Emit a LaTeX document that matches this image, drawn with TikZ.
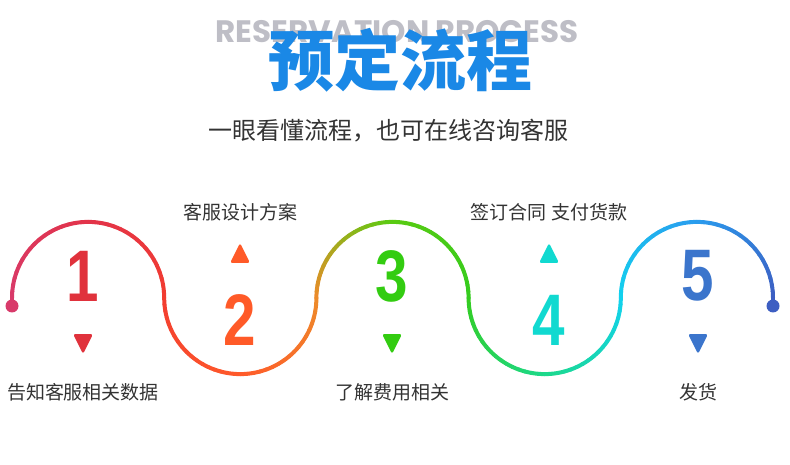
\documentclass[tikz,border=0pt]{standalone}
\usepackage{fontspec}
\newfontfamily\cjk{Noto Sans CJK SC}
\newfontfamily\latn{Poppins}
\newfontfamily\digs{Liberation Sans}
\definecolor{s0}{HTML}{D83A6A}
\definecolor{m1}{HTML}{E2334A}
\definecolor{s1}{HTML}{F23C30}
\definecolor{m2}{HTML}{FF5A2A}
\definecolor{s2}{HTML}{EE8A2A}
\definecolor{m3}{HTML}{5ACB12}
\definecolor{s3}{HTML}{34CC1E}
\definecolor{m4}{HTML}{1CD98A}
\definecolor{s4}{HTML}{12D2EE}
\definecolor{m5}{HTML}{2A9CEE}
\definecolor{s5}{HTML}{3D5EC2}
\definecolor{c1}{HTML}{E0323C}
\definecolor{c2}{HTML}{FF5A28}
\definecolor{c3}{HTML}{33CC11}
\definecolor{c4}{HTML}{11D9D0}
\definecolor{c5}{HTML}{3B75CC}
\definecolor{txt}{HTML}{333333}
\tikzset{
    stepnum/.style={inner sep=0pt, xscale=0.8, font=\digs\bfseries\fontsize{73}{73}\selectfont},
    steplabel/.style={inner sep=0pt, text=txt, font=\cjk\fontsize{19}{19}\selectfont},
    wave/.style={line width=4pt, line cap=round}
}
\begin{document}
\begin{tikzpicture}[x=1pt, y=1pt]
    \useasboundingbox (0,0) rectangle (790,464);

    \node[text={rgb,255:red,190;green,190;blue,198}, font=\latn\bfseries\fontsize{31}{31}\selectfont] (sub) at (397,432) {RESERVATION PROCESS};
    \node[text={rgb,255:red,26;green,136;blue,230}, font=\cjk\bfseries\fontsize{66}{66}\selectfont] (title) at (400,404) {预定流程};
    \node[text=txt, font=\cjk\fontsize{24}{24}\selectfont] (intro) at (388,333) {一眼看懂流程，也可在线咨询客服};

    % wave, drawn in small pieces for the colour run
    \foreach \k in {1,...,5}{
        \pgfmathsetmacro{\cx}{88.1+152.2*(\k-1)}
        \pgfmathtruncatemacro{\km}{\k-1}
        \pgfmathtruncatemacro{\sg}{mod(\k,2)==1 ? -1 : 1}
        \foreach \j in {0,...,35}{
            \pgfmathsetmacro{\aa}{180+\sg*5*\j}
            \pgfmathsetmacro{\ab}{180+\sg*5*(\j+1)}
            \ifnum\j<18
                \pgfmathtruncatemacro{\p}{(\j+0.5)/18*100}
                \colorlet{seg}{m\k!\p!s\km}
            \else
                \pgfmathtruncatemacro{\p}{(\j-17.5)/18*100}
                \colorlet{seg}{s\k!\p!m\k}
            \fi
            \draw[wave, seg] ({\cx+76.1*cos(\aa)},{166+76.1*sin(\aa)}) arc[start angle=\aa, end angle=\ab, radius=76.1];
        }
    }
    \coordinate (w0) at (12,166);
    \coordinate (w5) at (773,166);
    \fill[s0] (12,158) circle (6.5);
    \fill[s5] (773,158) circle (6.5);
    \draw[wave, s0] (w0) -- (12,158);
    \draw[wave, s5] (w5) -- (773,158);

    % numbers, marks and texts
    \foreach \i/\x/\lbl in {1/83/告知客服相关数据, 2/240/客服设计方案, 3/392/了解费用相关, 4/549/签订合同 支付货款, 5/698/发货}{
        \pgfmathtruncatemacro{\up}{mod(\i,2)}
        \ifnum\up=1
            \node[stepnum, text=c\i] (n\i) at (\x,188) {\i};
            \fill[c\i, rounded corners=2.5pt] (\x-10,130) -- (\x+10,130) -- (\x,110) -- cycle;
            \node[steplabel] (l\i) at (\x,72) {\lbl};
        \else
            \node[stepnum, text=c\i] (n\i) at (\x,144) {\i};
            \fill[c\i, rounded corners=2.5pt] (\x-10,201) -- (\x+10,201) -- (\x,221) -- cycle;
            \node[steplabel] (l\i) at (\x,252) {\lbl};
        \fi
    }
\end{tikzpicture}
\end{document}
